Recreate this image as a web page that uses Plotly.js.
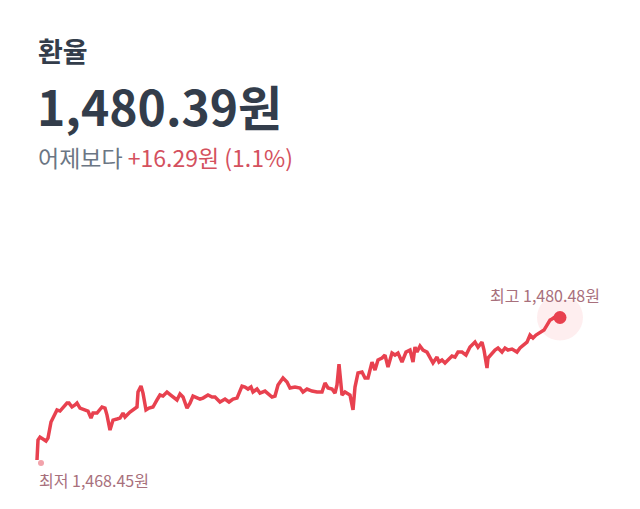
<!DOCTYPE html>
<html><head><meta charset="utf-8">
<script src="https://cdn.plot.ly/plotly-3.0.1.min.js"></script>
<style>html,body{margin:0;padding:0;background:#fff}#chart{width:640px;height:509px}</style>
</head><body><div id="chart"></div>
<script>
// minutes from start
const times = [0,1,3,6,9,11,14,16,20,23,26,30,32,35,38,40,43,48,51,54,56,60,65,68,70,73,76,80,83,86,88,93,98,100,101,104,106,109,112,116,120,123,126,130,135,140,143,146,150,153,156,160,
163,166,171,175,178,183,188,192,196,200,205,208,211,214,216,220,223,228,231,235,238,241,246,250,253,258,263,266,270,275,280,285,288,291,295,298,300,302,305,308,313,316,318,321,325,328,331,335,338,341,345,348,351,355,358,361,365,369,373,376,378,380,383,386,390,393,396,400,402,405,408,411,415,418,421,425,429,433,438,441,445,447,450,451,455,458,461,465,468,471,475,480,483,486,490,493,496,499,503,507,510,513,515,518,521,524];
const rates = [1468.45,1470.13,1470.38,1470.22,1470.05,1470.30,1471.65,1471.98,1472.66,1472.57,1472.91,1473.24,1473.24,1472.91,1473.08,1473.24,1472.82,1472.66,1472.57,1471.98,1472.40,1472.40,1472.91,1472.82,1472.23,1470.97,1471.81,1471.90,1471.98,1472.40,1472.07,1472.49,1472.74,1472.91,1474.17,1474.67,1474.08,1472.66,1472.82,1472.91,1473.50,1473.92,1473.83,1474.17,1473.83,1473.50,1474.00,1473.75,1472.82,1473.24,1473.83,1473.66,
1473.58,1473.66,1473.92,1473.75,1473.75,1473.33,1473.58,1473.33,1473.58,1473.66,1474.67,1474.59,1474.42,1474.59,1474.17,1474.42,1474.08,1474.25,1474.00,1473.75,1473.83,1474.76,1475.35,1475.01,1474.51,1474.59,1474.51,1474.17,1474.42,1474.25,1474.17,1474.17,1474.93,1474.51,1474.42,1474.08,1474.76,1476.52,1473.92,1474.17,1473.92,1472.66,1474.59,1475.77,1475.85,1475.35,1475.35,1476.69,1476.02,1476.86,1477.03,1477.28,1476.27,1477.45,1477.28,1477.45,1476.69,1477.53,1477.70,1476.69,1477.95,1477.53,1478.04,1477.70,1477.53,1477.11,1476.61,1477.11,1476.69,1476.86,1476.61,1476.86,1477.20,1477.11,1477.53,1477.53,1477.28,1477.95,1478.37,1477.95,1478.37,1477.70,1476.19,1477.03,1477.45,1477.70,1477.87,1477.53,1477.87,1477.70,1477.78,1477.53,1477.87,1478.12,1478.37,1478.96,1478.71,1478.96,1479.13,1479.38,1479.80,1480.22,1480.31,1480.48,1480.39];
const title = "환율";
const current = "1,480.39원";
const changeLabel = "어제보다";
const changeValue = "+16.29원 (1.1%)";
const highLabel = "최고 1,480.48원";
const lowLabel = "최저 1,468.45원";
const highT = 521, highV = 1480.48;
const lowT = 0, lowV = 1468.45;
const lastT = 524, lastV = 1480.39;

const red = '#e8414f';
const F = '"Noto Sans CJK KR", "Noto Sans", sans-serif';
// paper coordinate helpers (plot area spans the whole width, y from 300 to 480 px)
const px = v => v/640;
const py = v => (480 - v)/180;

const traces = [
  {x: times, y: rates, type:'scatter', mode:'lines', line:{color:red, width:3.5, shape:'linear'}, hoverinfo:'skip'},
  {x:[lastT-1], y:[lastV+0.05], type:'scatter', mode:'markers', marker:{size:46, color:'rgba(240,68,82,0.09)'}, hoverinfo:'skip'},
  {x:[lastT-1], y:[lastV+0.05], type:'scatter', mode:'markers', marker:{size:13, color:red}, hoverinfo:'skip'},
  {x:[lowT+4], y:[lowV-0.25], type:'scatter', mode:'markers', marker:{size:6, color:'#f2a3ab'}, hoverinfo:'skip'}
];

const layout = {
  width:640, height:509,
  margin:{l:0, r:0, t:300, b:29},
  paper_bgcolor:'#fff', plot_bgcolor:'#fff',
  showlegend:false,
  xaxis:{range:[-37, 603], visible:false, fixedrange:true},
  yaxis:{range:[1466.77, 1481.91], visible:false, fixedrange:true},
  font:{family:F},
  annotations:[
    {xref:'paper', yref:'paper', x:px(37), y:py(50), xanchor:'left', yanchor:'middle', showarrow:false, borderpad:0,
     text:'<b>'+title+'</b>', font:{family:F, size:27, color:'#333d4b'}},
    {xref:'paper', yref:'paper', x:px(36), y:py(105), xanchor:'left', yanchor:'middle', showarrow:false, borderpad:0,
     text:'<b>'+current+'</b>', font:{family:F, size:48, color:'#333d4b'}},
    {xref:'paper', yref:'paper', x:px(37), y:py(157), xanchor:'left', yanchor:'middle', showarrow:false, borderpad:0,
     text:'<span style="color:#6b7684">'+changeLabel+'</span> <span style="color:#d4515e">'+changeValue+'</span>', font:{family:F, size:23, color:'#6b7684'}},
    {x:highT, y:highV, xref:'x', yref:'y', showarrow:false, xanchor:'center', yanchor:'middle', xshift:-13, yshift:22,
     text:highLabel, font:{family:F, size:16, color:'#a8707c'}},
    {x:lowT, y:lowV, xref:'x', yref:'y', showarrow:false, xanchor:'left', yanchor:'middle', xshift:0, yshift:-20,
     text:lowLabel, font:{family:F, size:16, color:'#a8707c'}}
  ]
};
Plotly.newPlot('chart', traces, layout, {displayModeBar:false, staticPlot:true});
</script></body></html>
